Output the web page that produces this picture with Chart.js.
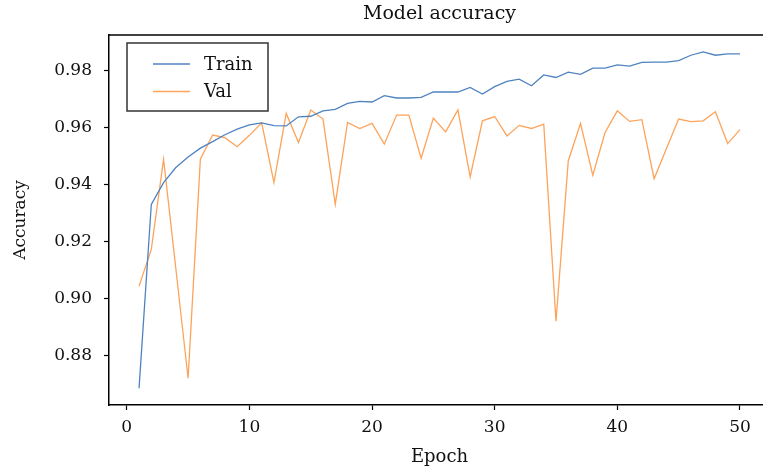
<!DOCTYPE html>
<html>
<head>
<meta charset="utf-8">
<script src="https://cdn.jsdelivr.net/npm/chart.js@4/dist/chart.umd.min.js"></script>
<style>
  html,body{margin:0;padding:0;background:#fff;overflow:hidden;}
  #wrap{width:763px;height:473px;overflow:hidden;}
  canvas{display:block;}
</style>
</head>
<body>
<div id="wrap"><canvas id="chart" width="790" height="473"></canvas></div>
<script>
const TITLE = "Model accuracy";
const X_LABEL = "Epoch";
const Y_LABEL = "Accuracy";

const epochs = [1,2,3,4,5,6,7,8,9,10,11,12,13,14,15,16,17,18,19,20,21,22,23,24,25,
  26,27,28,29,30,31,32,33,34,35,36,37,38,39,40,41,42,43,44,45,46,47,48,49,50];

const train = [0.8685,0.9330,0.9406,0.9459,0.9496,0.9527,0.9550,0.9574,0.9594,0.9609,
  0.9616,0.9606,0.9605,0.9637,0.9639,0.9658,0.9663,0.9684,0.9691,0.9689,
  0.9711,0.9703,0.9703,0.9705,0.9724,0.9724,0.9724,0.9740,0.9717,0.9743,
  0.9761,0.9769,0.9746,0.9784,0.9775,0.9794,0.9786,0.9808,0.9808,0.9819,
  0.9815,0.9828,0.9829,0.9829,0.9834,0.9853,0.9865,0.9853,0.9858,0.9858];

const val = [0.9043,0.9172,0.9488,0.9105,0.8720,0.9488,0.9573,0.9564,0.9532,0.9572,
  0.9616,0.9406,0.9649,0.9547,0.9661,0.9629,0.9330,0.9617,0.9596,0.9614,
  0.9541,0.9643,0.9643,0.9492,0.9633,0.9584,0.9661,0.9426,0.9623,0.9638,
  0.9570,0.9607,0.9596,0.9611,0.8920,0.9482,0.9614,0.9432,0.9582,0.9658,
  0.9621,0.9627,0.9420,0.9525,0.9629,0.9620,0.9623,0.9655,0.9543,0.9592];

const xTicks = [0,10,20,30,40,50];
const yTicks = [0.88,0.90,0.92,0.94,0.96,0.98];

const SERIF = "'DejaVu Serif', serif";
const $ = id => document.getElementById(id);
const pts = ys => epochs.map((e,i)=>({x:e,y:ys[i]}));

const frame = {
  id:"frame",
  afterDraw(c){
    const {ctx, chartArea:a} = c;
    ctx.save();
    // top spine (right side is cropped off in the reference)
    ctx.strokeStyle="#000";
    ctx.lineWidth=1.5;
    ctx.beginPath();
    ctx.moveTo(a.left,a.top);
    ctx.lineTo(a.right,a.top);
    ctx.stroke();

    // title over the axes
    ctx.fillStyle="#111";
    ctx.font="19px "+SERIF;
    ctx.textAlign="center";
    ctx.textBaseline="middle";
    ctx.fillText(TITLE,(a.left+a.right)/2,a.top-21);

    // legend box
    const lx=a.left+18, ly=a.top+8, lw=141, lh=68;
    ctx.fillStyle="#fff";
    ctx.fillRect(lx,ly,lw,lh);
    ctx.lineWidth=1.5;
    ctx.strokeStyle="#333";
    ctx.strokeRect(lx,ly,lw,lh);
    ctx.font="18px "+SERIF;
    ctx.textAlign="left";
    c.data.datasets.forEach((d,i)=>{
      const y=ly+21+i*27.5;
      ctx.strokeStyle=d.borderColor;
      ctx.lineWidth=1.3;
      ctx.beginPath();
      ctx.moveTo(lx+26,y);
      ctx.lineTo(lx+63,y);
      ctx.stroke();
      ctx.fillStyle="#111";
      ctx.fillText(d.label,lx+77,y+1);
    });
    ctx.restore();
  }
};

new Chart($("chart"),{
  type:"line",
  data:{datasets:[
    {label:"Train",data:pts(train),borderColor:"#4f83c0",borderWidth:1.3,pointRadius:0,tension:0},
    {label:"Val",data:pts(val),borderColor:"#fda35a",borderWidth:1.3,pointRadius:0,tension:0}
  ]},
  options:{
    responsive:false,
    animation:false,
    devicePixelRatio:1,
    layout:{padding:{top:35,right:20,left:0,bottom:0}},
    plugins:{legend:{display:false},title:{display:false},tooltip:{enabled:false}},
    scales:{
      x:{
        type:"linear",min:-1.45,max:52.45,
        afterFit:s=>{s.height=68;},
        afterBuildTicks:s=>{s.ticks=xTicks.map(v=>({value:v}));},
        grid:{drawOnChartArea:false,tickLength:5,tickColor:"#000",tickWidth:1.2},
        border:{display:true,color:"#000",width:1.5},
        ticks:{font:{family:SERIF,size:17},color:"#111",padding:7,maxRotation:0},
        title:{display:true,text:X_LABEL,font:{family:SERIF,size:18},color:"#111",padding:{top:2,bottom:5}}
      },
      y:{
        min:0.8626,max:0.9924,
        afterFit:s=>{s.width=109;},
        afterBuildTicks:s=>{s.ticks=yTicks.map(v=>({value:v}));},
        grid:{drawOnChartArea:false,tickLength:5,tickColor:"#000",tickWidth:1.2},
        border:{display:true,color:"#000",width:1.5},
        ticks:{font:{family:SERIF,size:17},color:"#111",padding:12,callback:v=>v.toFixed(2)},
        title:{display:true,text:Y_LABEL,font:{family:SERIF,size:17},color:"#111",padding:{top:10,bottom:0}}
      }
    }
  },
  plugins:[frame]
});
</script>
</body>
</html>
